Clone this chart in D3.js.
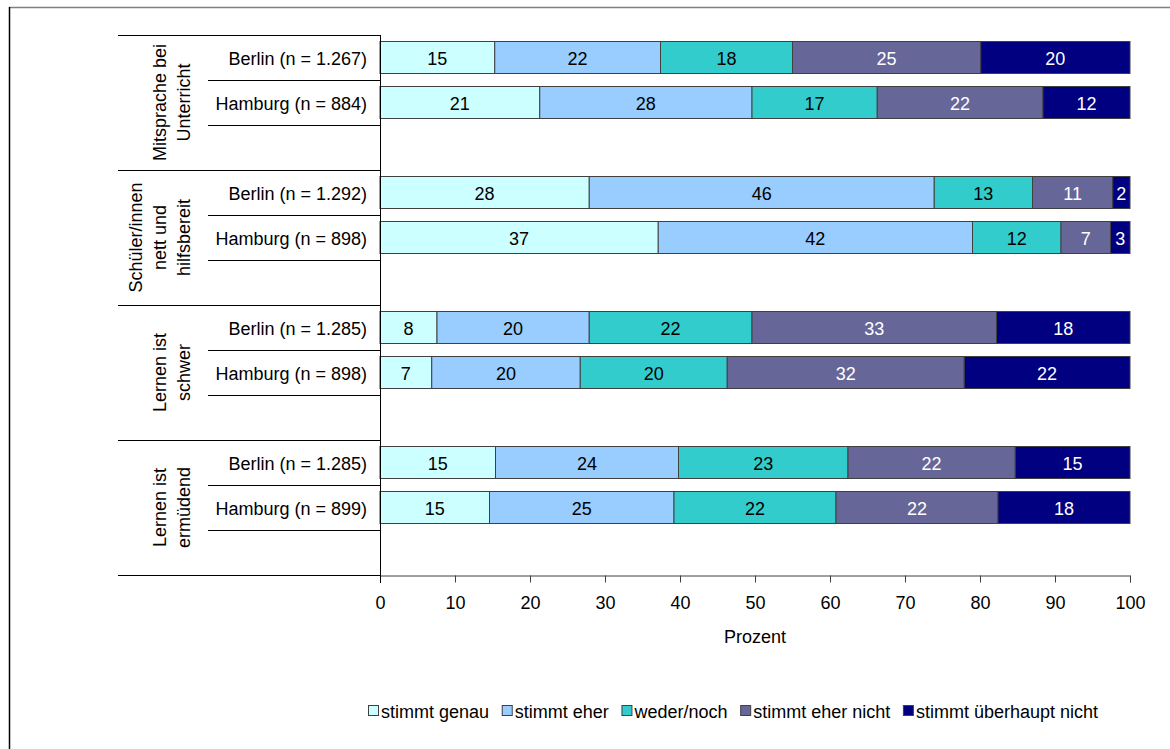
<!DOCTYPE html>
<html><head><meta charset="utf-8">
<script src="https://cdn.jsdelivr.net/npm/d3@7"></script>
<style>body{margin:0;background:#fff}svg{display:block}text{font-family:"Liberation Sans",Arial,sans-serif}</style>
</head><body><svg id="c" width="1170" height="749"></svg>
<script>
const groups = [["Mitsprache bei","Unterricht"],["Schüler/innen","nett und","hilfsbereit"],["Lernen ist","schwer"],["Lernen ist","ermüdend"]];
const rowLabels = [["Berlin (n = 1.267)","Hamburg (n = 884)"],["Berlin (n = 1.292)","Hamburg (n = 898)"],["Berlin (n = 1.285)","Hamburg (n = 898)"],["Berlin (n = 1.285)","Hamburg (n = 899)"]];
const series = ["stimmt genau","stimmt eher","weder/noch","stimmt eher nicht","stimmt überhaupt nicht"];
const colors = ["#ccffff","#99ccff","#33cccc","#666699","#000080"];
const textColors = ["#000","#000","#000","#fff","#fff"];
const values = [
  [[15.3,22.1,17.6,25.1,19.9],[21.3,28.3,16.7,22.1,11.6]],
  [[27.9,46.0,13.1,10.7,2.3],[37.1,41.9,11.8,6.6,2.6]],
  [[7.6,20.3,21.7,32.6,17.8],[6.9,19.8,19.6,31.6,22.1]],
  [[15.4,24.4,22.6,22.3,15.3],[14.6,24.6,21.6,21.6,17.6]]
];
const ticks = [0,10,20,30,40,50,60,70,80,90,100];
const axisTitle = "Prozent";

const svg = d3.select("#c");
const FS = 18;
// frame
svg.append("line").attr("x1",9).attr("y1",7.5).attr("x2",1170).attr("y2",7.5).attr("stroke","#808080").attr("stroke-width",1.5);
svg.append("line").attr("x1",9.5).attr("y1",7).attr("x2",9.5).attr("y2",749).attr("stroke","#000").attr("stroke-width",1.5);

const x = d3.scaleLinear().domain([0,100]).range([380,1130]);
const yG = d3.scaleBand().domain(d3.range(groups.length)).range([35,575]);
const slot = d3.scaleBand().domain([0,1,2]).range([0,yG.bandwidth()]);
const barH = 32, barOff = 6.5;

const g = svg.append("g");
groups.forEach((lines,gi)=>{
  const top = yG(gi);
  g.append("line").attr("x1",118).attr("x2",380).attr("y1",top+0.5).attr("y2",top+0.5).attr("stroke","#000");
  [1,2].forEach(k=>{
    g.append("line").attr("x1",208).attr("x2",380).attr("y1",top+slot(k)+0.5).attr("y2",top+slot(k)+0.5).attr("stroke","#000");
  });
  const cy = top + yG.bandwidth()/2;
  lines.forEach((ln,i)=>{
    const cx = 184 - 24*(lines.length-1-i);
    g.append("text").attr("transform",`translate(${cx},${cy}) rotate(-90)`)
      .attr("text-anchor","middle").attr("dominant-baseline","central")
      .attr("font-size",FS).text(ln);
  });
  rowLabels[gi].forEach((lab,ri)=>{
    const ry = top + slot(ri);
    g.append("text").attr("x",367).attr("y",ry+slot.bandwidth()/2+1).attr("text-anchor","end")
      .attr("dominant-baseline","central").attr("font-size",FS).text(lab);
    const vals = values[gi][ri];
    let cum = 0;
    vals.forEach((v,si)=>{
      const x0 = x(cum), x1 = x(cum+v);
      g.append("rect").attr("x",x0).attr("y",ry+barOff).attr("width",x1-x0).attr("height",barH)
        .attr("fill",colors[si]).attr("stroke","#404040").attr("stroke-width",1);
      g.append("text").attr("x",(x0+x1)/2).attr("y",ry+barOff+barH/2+1).attr("text-anchor","middle")
        .attr("dominant-baseline","central").attr("font-size",FS).attr("fill",textColors[si]).text(Math.round(v));
      cum += v;
    });
  });
});
g.append("line").attr("x1",118).attr("x2",380).attr("y1",575.5).attr("y2",575.5).attr("stroke","#000");
const ax = svg.append("g").attr("transform","translate(0,575.5)")
  .call(d3.axisBottom(x).tickValues(ticks).tickSize(7).tickSizeOuter(7).tickPadding(14));
ax.select(".domain").attr("stroke","#404040");
ax.selectAll(".tick line").attr("stroke","#404040");
ax.selectAll("text").attr("font-size",FS).attr("font-family","Liberation Sans, Arial, sans-serif").attr("fill","#000");
svg.append("line").attr("x1",380.5).attr("x2",380.5).attr("y1",35).attr("y2",583).attr("stroke","#000");
svg.append("text").attr("x",755).attr("y",637).attr("text-anchor","middle").attr("dominant-baseline","central").attr("font-size",FS).text(axisTitle);

// legend
const leg = svg.append("g").attr("transform","translate(368,711)");
const LFS = 18;
const its = series.map((s,i)=>{
  const it = leg.append("g");
  it.append("rect").attr("x",0.5).attr("y",-5.5).attr("width",10).attr("height",10).attr("fill",colors[i]).attr("stroke","#404040");
  const t = it.append("text").attr("x",13).attr("y",1).attr("dominant-baseline","central").attr("font-size",LFS).text(s);
  return {it, w: 13 + t.node().getComputedTextLength()};
});
const totalW = 1098-368;
const gap = Math.max(4,(totalW - d3.sum(its,d=>d.w))/(its.length-1));
let lx = 0;
its.forEach(d=>{ d.it.attr("transform",`translate(${lx},0)`); lx += d.w + gap; });
</script></body></html>
